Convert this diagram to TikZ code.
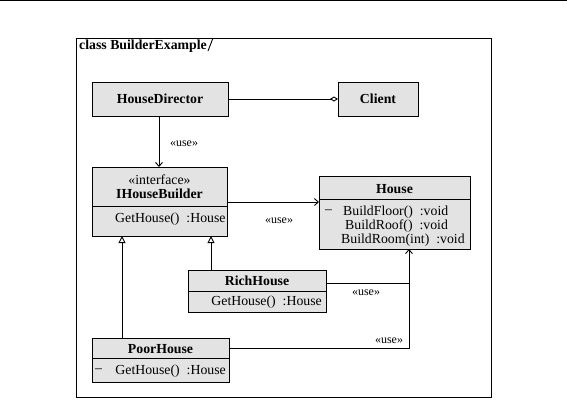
\documentclass[tikz,border=0pt]{standalone}
\usepackage{fontspec}
\setmainfont{Liberation Serif}
\usetikzlibrary{arrows.meta}
\definecolor{clsfill}{RGB}{227,227,227}
\tikzset{
  cls/.style={draw=black, fill=clsfill, line width=0.9pt, inner sep=0pt, outer sep=0pt, font=\fontsize{13.8}{14}\selectfont},
  txt/.style={inner sep=0pt, font=\fontsize{13.8}{14}\selectfont},
  ttl/.style={inner sep=0pt, font=\fontsize{13.8}{14}\selectfont\bfseries},
  lbl/.style={inner sep=0pt, font=\fontsize{12}{13}\selectfont},
  conn/.style={line width=0.9pt},
  usearrow/.style={conn, -{Straight Barb[length=4pt,width=7pt]}},
  realize/.style={conn, {Triangle[open,length=7pt,width=7pt,fill=white]}-},
  aggr/.style={conn, -{Diamond[open,length=8pt,width=5pt]}},
}
\begin{document}
\begin{tikzpicture}[x=1pt,y=-1pt]
\useasboundingbox (0,0) rectangle (567,400);
\draw[line width=0.9pt] (0,0.5) -- (567,0.5);
% frame
\node[draw, line width=0.9pt, minimum width=415pt, minimum height=359pt, anchor=north west, inner sep=0pt, outer sep=0pt] (frame) at (76,38) {};
\node[ttl, anchor=base west] (ftitle) at (79,49) {class BuilderExample};
\draw[line width=0.9pt] (213,38) -- (208,51);
% HouseDirector
\node[cls, minimum width=136pt, minimum height=34pt, font=\fontsize{13.8}{14}\selectfont\bfseries] (hd) at (160,99) {HouseDirector};
% Client
\node[cls, minimum width=80pt, minimum height=34pt, font=\fontsize{13.8}{14}\selectfont\bfseries] (client) at (378,99) {Client};
% IHouseBuilder
\node[cls, minimum width=135pt, minimum height=39pt, anchor=north west] (ihb) at (92,167) {};
\node[cls, minimum width=135pt, minimum height=30pt, anchor=north] (ihbm) at (ihb.south) {};
\node[txt] (ihbst) at (159.5,180) {«interface»};
\node[ttl] (ihbname) at (159.5,194) {IHouseBuilder};
\node[txt, anchor=west] (ihbop) at (115,219) {GetHouse()\ \ :House};
% House
\node[cls, minimum width=151pt, minimum height=23pt, anchor=north west] (house) at (319,176) {};
\node[cls, minimum width=151pt, minimum height=50pt, anchor=north] (housem) at (house.south) {};
\node[ttl] (housename) at (394.5,189) {House};
\node[txt, anchor=west] (hm0) at (325,212) {–};
\node[txt, anchor=west] (hm1) at (343,212) {BuildFloor()\ \ :void};
\node[txt, anchor=west] (hm2) at (345,226) {BuildRoof()\ \ :void};
\node[txt, anchor=west] (hm3) at (341,240) {BuildRoom(int)\ \ :void};
% RichHouse
\node[cls, minimum width=138pt, minimum height=21pt, anchor=north west] (rich) at (188,270) {};
\node[cls, minimum width=138pt, minimum height=21pt, anchor=north] (richm) at (rich.south) {};
\node[ttl] (richname) at (257,281) {RichHouse};
\node[txt, anchor=east] (richop) at (322,302) {GetHouse()\ \ :House};
% PoorHouse
\node[cls, minimum width=137pt, minimum height=20pt, anchor=north west] (poor) at (92,338) {};
\node[cls, minimum width=137pt, minimum height=24pt, anchor=north] (poorm) at (poor.south) {};
\node[ttl] (poorname) at (160.5,349) {PoorHouse};
\node[txt, anchor=west] (poorm0) at (95,371) {–};
\node[txt, anchor=east] (poorop) at (226,371) {GetHouse()\ \ :House};
% connectors
\draw[aggr] (hd.east) -- (client.west);
\draw[usearrow] (hd.south -| 159,0) -- (ihb.north -| 159,0);
\node[lbl] (l1) at (184,144) {«use»};
\draw[usearrow] (ihb.east |- 0,202) -- (house.west |- 0,202);
\node[lbl] (l2) at (279,221) {«use»};
\coordinate (hin) at (409,0);
\draw[realize] (ihbm.south -| 211,0) -- (rich.north -| 211,0);
\draw[realize] (ihbm.south -| 122,0) -- (poor.north -| 122,0);
\draw[conn] (rich.east |- 0,283) -| (hin |- poor.east);
\draw[usearrow] (poor.east) -| (hin |- housem.south);
\node[lbl] (l3) at (366,293) {«use»};
\node[lbl] (l4) at (389,341) {«use»};
\end{tikzpicture}
\end{document}
